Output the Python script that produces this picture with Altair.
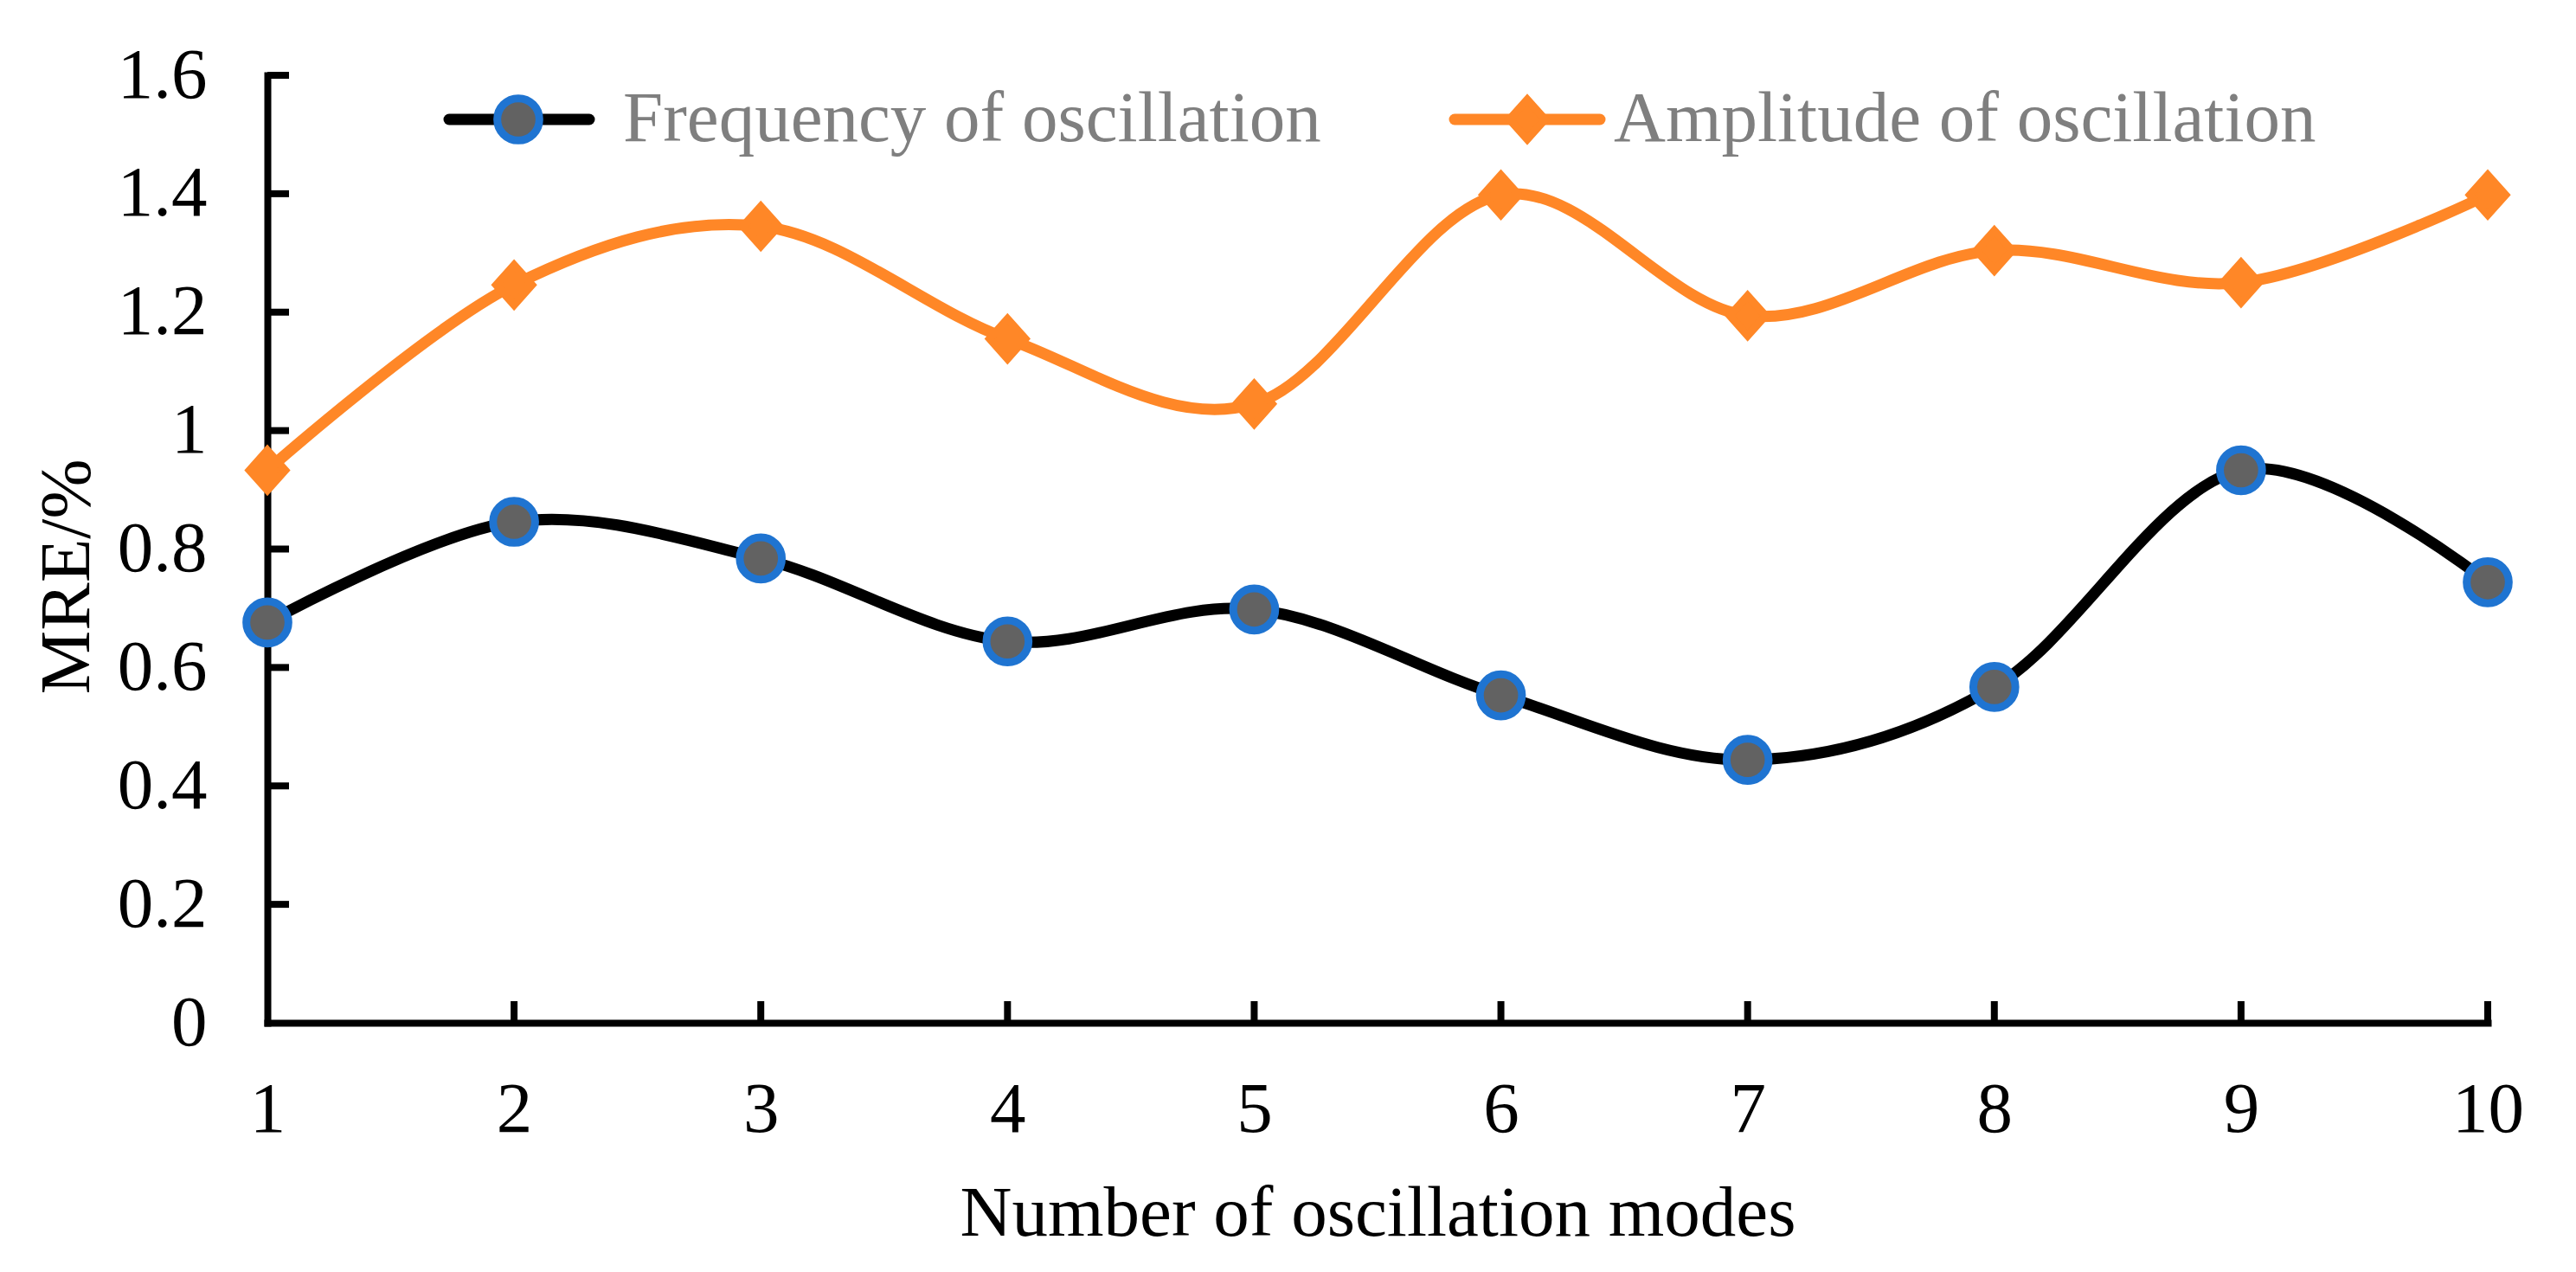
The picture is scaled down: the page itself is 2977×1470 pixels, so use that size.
import altair as alt
import pandas as pd

# ---- data ----
modes = [1, 2, 3, 4, 5, 6, 7, 8, 9, 10]
freq = [0.676, 0.846, 0.784, 0.644, 0.698, 0.553, 0.444, 0.567, 0.933, 0.744]
amp = [0.933, 1.246, 1.345, 1.155, 1.045, 1.398, 1.194, 1.304, 1.250, 1.398]
series_names = ["Frequency of oscillation", "Amplitude of oscillation"]
x_ticks = [1, 2, 3, 4, 5, 6, 7, 8, 9, 10]
y_ticks = [0, 0.2, 0.4, 0.6, 0.8, 1.0, 1.2, 1.4, 1.6]

df = pd.DataFrame({
    "mode": modes + modes,
    "value": freq + amp,
    "series": [series_names[0]] * len(modes) + [series_names[1]] * len(modes),
})
ytick_df = pd.DataFrame({"value": y_ticks[1:]})
xtick_df = pd.DataFrame({"mode": x_ticks[1:]})

# ---- styling ----
W, H = 2566, 1095
FONT = "Liberation Serif"
FS = 83
ORANGE = "#FF8727"
BLUE = "#1F74D1"
GRAY = "#626262"
LW = 13
PSW = 9
SYM = 27225
CIRCLE = "M0.295,0 A0.295,0.295 0 1,1 -0.295,0 A0.295,0.295 0 1,1 0.295,0 Z"
DIAMOND = "M0,-0.28 L0.25,0 L0,0.28 L-0.25,0 Z"

x_enc = alt.X(
    "mode:Q",
    scale=alt.Scale(domain=[1, 10], nice=False, zero=False),
    axis=alt.Axis(values=x_ticks, format="d", title="Number of oscillation modes",
                  ticks=False, grid=False, labelPadding=59, titlePadding=37,
                  labelFlush=False, labelOverlap=False,
                  domainColor="black", domainWidth=8, domainCap="square"),
)
y_enc = alt.Y(
    "value:Q",
    scale=alt.Scale(domain=[0, 1.6], nice=False),
    axis=alt.Axis(values=y_ticks, format="~g", title="MRE/%",
                  ticks=False, grid=False, labelPadding=70, titlePadding=16,
                  labelFlush=False, labelOverlap=False,
                  titleY=579, domainColor="black", domainWidth=8, domainCap="square"),
)

line = alt.Chart(df).mark_line(interpolate="cardinal", strokeWidth=LW).encode(
    x=x_enc, y=y_enc,
    stroke=alt.Stroke("series:N", scale=alt.Scale(domain=series_names, range=["#000000", ORANGE]),
                      legend=None),
)

points = alt.Chart(df).mark_point(filled=True, size=SYM, opacity=1, strokeWidth=PSW).encode(
    x=x_enc, y=y_enc,
    shape=alt.Shape("series:N", scale=alt.Scale(domain=series_names, range=[CIRCLE, DIAMOND]),
                    legend=None),
    fill=alt.Fill("series:N", scale=alt.Scale(domain=series_names, range=[GRAY, ORANGE]),
                  legend=None),
    stroke=alt.Stroke("series:N", scale=alt.Scale(domain=series_names, range=[BLUE, ORANGE]),
                      legend=None),
)

yticks = alt.Chart(ytick_df).mark_rule(color="black", strokeWidth=8).encode(
    y=y_enc, x=alt.value(0), x2=alt.value(25)
)
xticks = alt.Chart(xtick_df).mark_rule(color="black", strokeWidth=8).encode(
    x=x_enc, y=alt.value(H), y2=alt.value(H - 25)
)

# ---- legend (line + marker + label), drawn at the top of the plot ----
LEG_Y = 51
leg_layers = []
leg_specs = [
    (series_names[0], "#000000", GRAY, BLUE, CIRCLE, 210, 372, 290, 411),
    (series_names[1], ORANGE, ORANGE, ORANGE, DIAMOND, 1372, 1540, 1456, 1556),
]
for name, lcol, fcol, scol, shp, x0, x1, xm, xt in leg_specs:
    ldf = pd.DataFrame({"series": [name]})
    leg_layers.append(
        alt.Chart(ldf).mark_rule(strokeWidth=LW, strokeCap="round", color=lcol).encode(
            x=alt.value(x0), x2=alt.value(x1), y=alt.value(LEG_Y))
    )
    leg_layers.append(
        alt.Chart(ldf).mark_point(filled=True, size=SYM, opacity=1, strokeWidth=PSW,
                                  fill=fcol, stroke=scol, shape=shp).encode(
            x=alt.value(xm), y=alt.value(LEG_Y))
    )
    leg_layers.append(
        alt.Chart(ldf).mark_text(align="left", baseline="middle", font=FONT, fontSize=FS,
                                 color="#7F7F7F").encode(
            x=alt.value(xt), y=alt.value(LEG_Y), text="series:N")
    )

chart = alt.layer(yticks, xticks, line, points, *leg_layers).resolve_scale(
    stroke="independent"
).properties(
    width=W, height=H,
    autosize=alt.AutoSizeParams(type="none"),
    padding={"left": 301, "top": 79, "right": 80, "bottom": 275},
    background="white",
).configure_view(stroke=None).configure_axis(
    labelFont=FONT, labelFontSize=FS, labelColor="black",
    titleFont=FONT, titleFontSize=FS, titleFontWeight="normal", titleColor="black",
)

chart.save("out.html", embed_options={"renderer": "svg", "actions": False})
